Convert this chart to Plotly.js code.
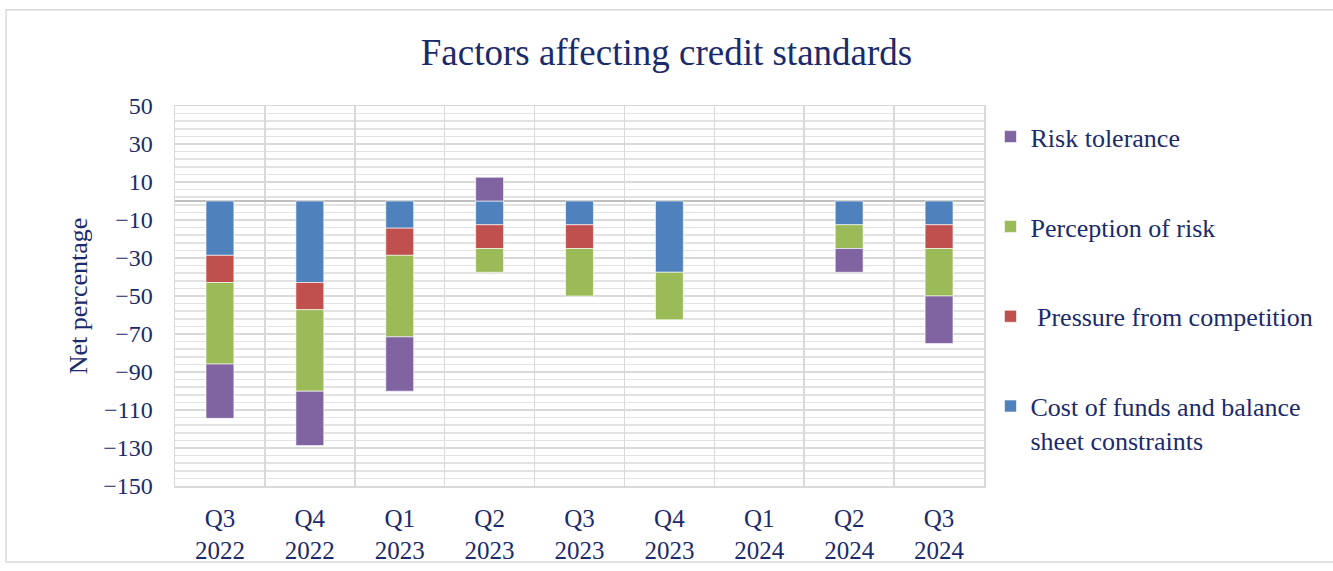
<!DOCTYPE html>
<html><head><meta charset="utf-8">
<script src="https://cdn.plot.ly/plotly-3.0.1.min.js"></script>
<style>html,body{margin:0;padding:0;background:#fff}#chart{width:1333px;height:571px}</style>
</head><body><div id="chart"></div>
<script>
const quarters = ["Q3<br>2022","Q4<br>2022","Q1<br>2023","Q2<br>2023","Q3<br>2023","Q4<br>2023","Q1<br>2024","Q2<br>2024","Q3<br>2024"];
const costOfFunds = [-28.6,-42.9,-14.3,-12.5,-12.5,-37.5,null,-12.5,-12.5];
const competition = [-14.3,-14.3,-14.3,-12.5,-12.5,null,null,null,-12.5];
const perception = [-42.9,-42.9,-42.9,-12.5,-25,-25,null,-12.5,-25];
const riskTolerance = [-28.6,-28.6,-28.6,12.5,null,null,null,-12.5,-25];
const names = ["Cost of funds and balance<br>sheet constraints"," Pressure from competition","Perception of risk","Risk tolerance"];
const colors = ["#4F81BD","#C0504D","#9BBB59","#8064A2"];
const series = [costOfFunds, competition, perception, riskTolerance];
const navy = "#1B2A6B";
const font = "Liberation Serif, Times New Roman, serif";
const traces = series.map((s,i)=>({
  type:"bar", x:quarters, y:s, name:names[i], legendgroup:"g"+i, legendrank:4-i,
  marker:{color:colors[i], line:{color:"#ffffff", width:0.6}},
  hoverinfo:"y+name"
}));
const layout = {
  width:1333, height:571,
  margin:{l:175, r:349, t:106, b:85},
  paper_bgcolor:"#ffffff", plot_bgcolor:"#ffffff",
  barmode:"relative", bargap:0.69,
  font:{family:font, color:navy, size:24},
  title:{text:"Factors affecting credit standards", x:0.5, xref:"container", xanchor:"center", y:0.909, yanchor:"middle", font:{family:font, size:37, color:navy}},
  xaxis:{type:"category", tickson:"boundaries", showgrid:true, gridcolor:"#d9d9d9", gridwidth:1.5, ticks:"", ticklabelstandoff:9,
         showline:true, linecolor:"#d9d9d9", linewidth:1.5, mirror:true, tickfont:{size:25, color:navy}},
  yaxis:{range:[-150,50], tick0:-150, dtick:20, showgrid:true, gridcolor:"#d9d9d9", gridwidth:1.5,
         minor:{dtick:4, tick0:-150, showgrid:true, gridcolor:"#e3e3e3", gridwidth:1.5},
         zeroline:true, zerolinecolor:"#bfbfbf", zerolinewidth:2,
         showline:true, linecolor:"#d9d9d9", linewidth:1.5, mirror:true,
         ticks:"", ticklabelstandoff:16, tickfont:{size:24, color:navy},
         title:{text:"Net percentage", standoff:8, font:{size:26, color:navy}}},
  legend:{traceorder:"grouped", tracegroupgap:53, x:1.008, xanchor:"left", y:0.981, yanchor:"top", valign:"top",
          font:{family:font, size:26, color:navy}, itemwidth:30, bgcolor:"rgba(0,0,0,0)"},
  shapes:[{type:"rect", xref:"paper", yref:"paper", x0:-0.2088, x1:1.4326, y0:-0.2, y1:1.2533,
           line:{color:"#d9d9d9", width:1.5}, fillcolor:"rgba(0,0,0,0)", layer:"below"}]
};
Plotly.newPlot("chart", traces, layout, {staticPlot:true});
</script></body></html>
